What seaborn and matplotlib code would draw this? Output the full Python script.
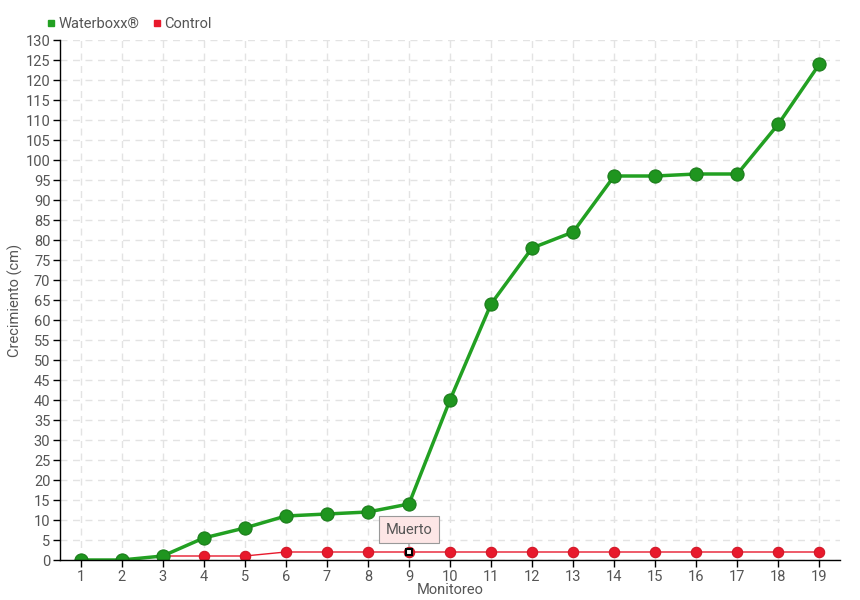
import pandas as pd
import seaborn as sns
import matplotlib.pyplot as plt

# Data
monitoreo = list(range(1, 20))
waterboxx = [0, 0, 1, 5.5, 8, 11, 11.5, 12, 14, 40, 64, 78, 82, 96, 96, 96.5, 96.5, 109, 124]
control = [0, 0, 1, 1, 1, 2, 2, 2, 2, 2, 2, 2, 2, 2, 2, 2, 2, 2, 2]
dead_point = 9

df = pd.DataFrame({'Monitoreo': monitoreo, 'Waterboxx®': waterboxx, 'Control': control})

sns.set_theme(style="white")
plt.rcParams['font.family'] = ['Roboto', 'DejaVu Sans']
text_color = '#555555'

green = '#22a022'
red = '#e8192c'

fig = plt.figure(figsize=(8.6, 6), dpi=100)
ax = fig.add_axes([60 / 860, 40 / 600, 780 / 860, 520 / 600])

# Grid
ax.grid(True, color='#e3e3e3', linestyle=(0, (5, 4)), linewidth=1)
ax.set_axisbelow(True)

# Control series
sns.lineplot(data=df, x='Monitoreo', y='Control', ax=ax, color=red, linewidth=1,
             marker='o', markersize=7.5, markeredgecolor='#d01525', markerfacecolor=red, label='Control')
# Waterboxx series
sns.lineplot(data=df, x='Monitoreo', y='Waterboxx®', ax=ax, color=green, linewidth=2.5,
             marker='o', markersize=9.5, markeredgecolor='#1a7a1a', markerfacecolor='#1f951f',
             label='Waterboxx®')

# Highlighted dead point
ax.plot([dead_point], [control[dead_point - 1]], marker='s', markersize=5,
        markerfacecolor='white', markeredgecolor='black', markeredgewidth=1.5, zorder=5)
ax.annotate('Muerto', xy=(dead_point, control[dead_point - 1]), xytext=(0, 16),
            textcoords='offset points', ha='center', va='center', fontsize=10.5, color=text_color,
            bbox=dict(boxstyle='square,pad=0.45', fc='#fde6e6', ec='#999999', lw=0.8),
            arrowprops=dict(arrowstyle='-', color='#999999', lw=0.8, shrinkA=0, shrinkB=4),
            zorder=6)

ax.set_xlim(0.5, 19.5)
ax.set_ylim(0, 130)
ax.set_xticks(monitoreo)
ax.set_yticks(range(0, 131, 5))
ax.tick_params(axis='both', colors='black', labelcolor=text_color, labelsize=10.5,
               direction='out', length=5, width=1, bottom=True, left=True, pad=2)
for s in ['top', 'right']:
    ax.spines[s].set_visible(False)
for s in ['left', 'bottom']:
    ax.spines[s].set_color('black')
    ax.spines[s].set_linewidth(1)

ax.set_xlabel('Monitoreo', fontsize=10.5, color=text_color)
ax.set_ylabel('Crecimiento (cm)', fontsize=10.5, color=text_color)
ax.xaxis.set_label_coords(0.5, -0.045)
ax.yaxis.set_label_coords(-0.047, 0.5)

# Legend at top-left, square markers
handles = [
    plt.Line2D([], [], marker='s', linestyle='', color=green, markersize=5),
    plt.Line2D([], [], marker='s', linestyle='', color=red, markersize=5),
]
ax.legend(handles, ['Waterboxx®', 'Control'], loc='lower left', bbox_to_anchor=(-0.03, 1.0),
          ncol=2, frameon=False, fontsize=10.5, handletextpad=0.1, columnspacing=0.8,
          labelcolor=text_color, handlelength=0.8, borderaxespad=0.2)

fig.savefig('out.png', dpi=100)
